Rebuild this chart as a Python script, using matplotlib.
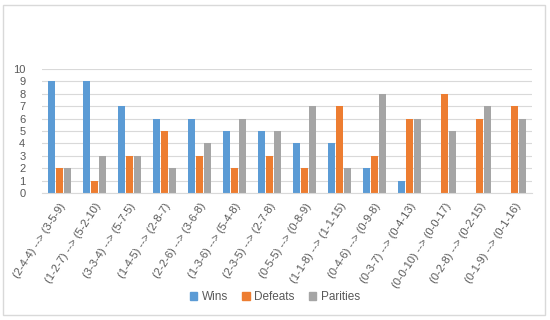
import matplotlib.pyplot as plt
import matplotlib.patches as mpatches
import numpy as np

transitions = ['(2-4-4) --> (3-5-9)', '(1-2-7) --> (5-2-10)', '(3-3-4) --> (5-7-5)',
               '(1-4-5) --> (2-8-7)', '(2-2-6) --> (3-6-8)', '(1-3-6) --> (5-4-8)',
               '(2-3-5) --> (2-7-8)', '(0-5-5) --> (0-8-9)', '(1-1-8) --> (1-1-15)',
               '(0-4-6) --> (0-9-8)', '(0-3-7) --> (0-4-13)', '(0-0-10) --> (0-0-17)',
               '(0-2-8) --> (0-2-15)', '(0-1-9) --> (0-1-16)']
wins = [9, 9, 7, 6, 6, 5, 5, 4, 4, 2, 1, 0, 0, 0]
defeats = [2, 1, 3, 5, 3, 2, 3, 2, 7, 3, 6, 8, 6, 7]
parities = [2, 3, 3, 2, 4, 6, 5, 7, 2, 8, 6, 5, 7, 6]

c_wins = '#5B9BD5'
c_def = '#ED7D31'
c_par = '#A5A5A5'
txt = '#595959'

plt.rcParams['font.family'] = ['Liberation Sans', 'DejaVu Sans']

fig = plt.figure(figsize=(5.5, 3.2), dpi=100)
ax = fig.add_axes([42 / 550, 1 - 193 / 320, 490 / 550, 124 / 320])

x = np.arange(len(transitions))
w = 0.2
ax.bar(x - 0.23, wins, w, color=c_wins)
ax.bar(x, defeats, w, color=c_def)
ax.bar(x + 0.23, parities, w, color=c_par)

ax.set_xlim(-0.5, len(transitions) - 0.5)
ax.set_ylim(0, 10)
ax.set_yticks(range(0, 11))
ax.yaxis.grid(True, color='#D9D9D9', linewidth=0.8)
ax.set_axisbelow(True)
for s in ['top', 'right', 'left']:
    ax.spines[s].set_visible(False)
ax.spines['bottom'].set_color('#D9D9D9')
ax.tick_params(axis='both', length=0, colors=txt, labelsize=8)
ax.tick_params(axis='y', pad=12)
ax.set_xticks(x)
ax.set_xticklabels(transitions, rotation=57, ha='right', rotation_mode='anchor', fontsize=8)
ax.tick_params(axis='x', pad=6)

handles = [mpatches.Patch(color=c_wins, label='Wins'),
           mpatches.Patch(color=c_def, label='Defeats'),
           mpatches.Patch(color=c_par, label='Parities')]
leg = fig.legend(handles=handles, loc='center', bbox_to_anchor=(0.5, 1 - 297 / 320), ncol=3,
                 frameon=False, fontsize=8.5, handlelength=0.6, handleheight=0.6,
                 handletextpad=0.4, columnspacing=1.2)
for t in leg.get_texts():
    t.set_color(txt)

fig.patches.append(mpatches.Rectangle((3 / 550, 5 / 320), 542 / 550, 310 / 320,
                                      transform=fig.transFigure, fill=False,
                                      edgecolor='#D9D9D9', linewidth=1))

fig.savefig('out.png', dpi=100)
